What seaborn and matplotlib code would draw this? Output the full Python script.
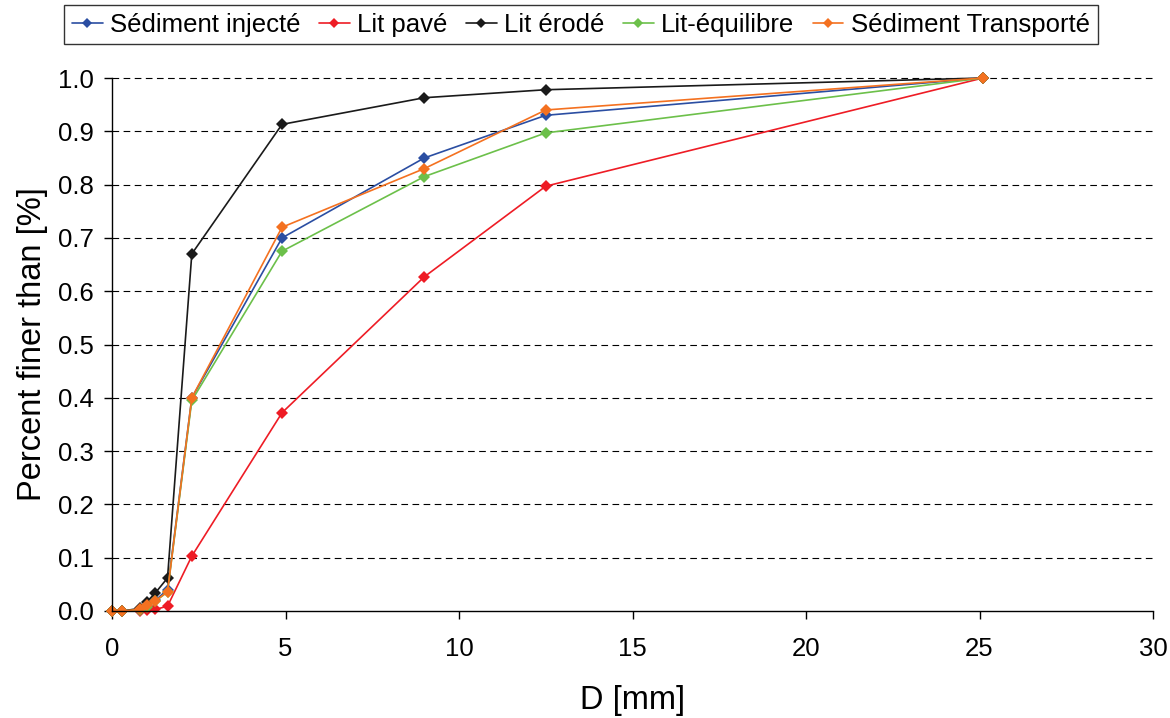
import pandas as pd
import matplotlib
matplotlib.use("Agg")
import matplotlib.pyplot as plt
import seaborn as sns

# === Data ===
diam = [0, 0.3, 0.8, 1.0, 1.25, 1.6, 2.3, 4.9, 9.0, 12.5, 25.1]
injecte = [0, 0, 0.003, 0.010, 0.020, 0.040, 0.400, 0.700, 0.850, 0.930, 1.0]
pave = [0, 0, 0, 0.001, 0.003, 0.009, 0.103, 0.372, 0.627, 0.797, 1.0]
erode = [0, 0, 0.005, 0.017, 0.034, 0.062, 0.670, 0.913, 0.963, 0.978, 1.0]
equilibre = [0, 0, 0.002, 0.008, 0.018, 0.036, 0.395, 0.675, 0.815, 0.897, 1.0]
transporte = [0, 0, 0.003, 0.011, 0.019, 0.036, 0.400, 0.720, 0.830, 0.940, 1.0]

series_names = ["Sédiment injecté", "Lit pavé", "Lit érodé", "Lit-équilibre", "Sédiment Transporté"]
series_vals = [injecte, pave, erode, equilibre, transporte]
colors = ["#2b4ea2", "#ee1c25", "#1a1a1a", "#6cc04a", "#f47120"]

rows = []
for name, vals in zip(series_names, series_vals):
    for d, v in zip(diam, vals):
        rows.append({"D": d, "frac": v, "serie": name})
df = pd.DataFrame(rows)

# === Plot ===
sns.set_style("white")
plt.rcParams["font.family"] = ["Liberation Sans", "DejaVu Sans"]
plt.rcParams["text.color"] = "black"
plt.rcParams["axes.labelcolor"] = "black"
plt.rcParams["xtick.color"] = "black"
plt.rcParams["ytick.color"] = "black"

fig = plt.figure(figsize=(11.7, 7.18), dpi=100)
ax = fig.add_axes([112 / 1170, 1 - 611 / 718, (1153 - 112) / 1170, (611 - 78) / 718])

sns.lineplot(
    data=df, x="D", y="frac", hue="serie", hue_order=series_names,
    palette=colors, marker="D", markersize=6.5, markeredgewidth=0,
    linewidth=1.2, sort=False, ax=ax, legend=False,
)

ax.set_xlim(0, 30)
ax.set_ylim(0, 1.0)
ax.set_xticks(range(0, 31, 5))
ax.set_yticks([i / 10 for i in range(11)])
ax.set_yticklabels([f"{i / 10:.1f}" for i in range(11)])
ax.tick_params(axis="both", labelsize=18.5, direction="out", length=6, width=1,
               color="black", labelcolor="black", left=True, bottom=True)
ax.tick_params(axis="x", pad=13)
ax.tick_params(axis="y", pad=7)

for y in [i / 10 for i in range(1, 11)]:
    ax.axhline(y, color="black", linestyle=(0, (6, 4)), linewidth=0.8, zorder=0)

for s in ["top", "right"]:
    ax.spines[s].set_visible(False)
for s in ["left", "bottom"]:
    ax.spines[s].set_color("black")
    ax.spines[s].set_linewidth(1.0)
for line in ax.lines:
    line.set_clip_on(False)

ax.set_xlabel("D [mm]", fontsize=23.5, labelpad=17)
ax.set_ylabel("Percent finer than [%]", fontsize=23.5, labelpad=7)

handles = [
    plt.Line2D([], [], color=c, marker="D", markersize=5.5, markeredgewidth=0, linewidth=1.2)
    for c in colors
]
leg = fig.legend(
    handles, series_names, loc="upper center", bbox_to_anchor=(581 / 1170, 1 - 5 / 718),
    ncol=5, fontsize=18.5, frameon=True, fancybox=False, handlelength=1.2,
    handletextpad=0.3, columnspacing=0.7, borderpad=0.3, borderaxespad=0,
)
leg.get_frame().set_edgecolor("black")
leg.get_frame().set_linewidth(1.0)

fig.savefig("out.png", dpi=100, facecolor="white")
